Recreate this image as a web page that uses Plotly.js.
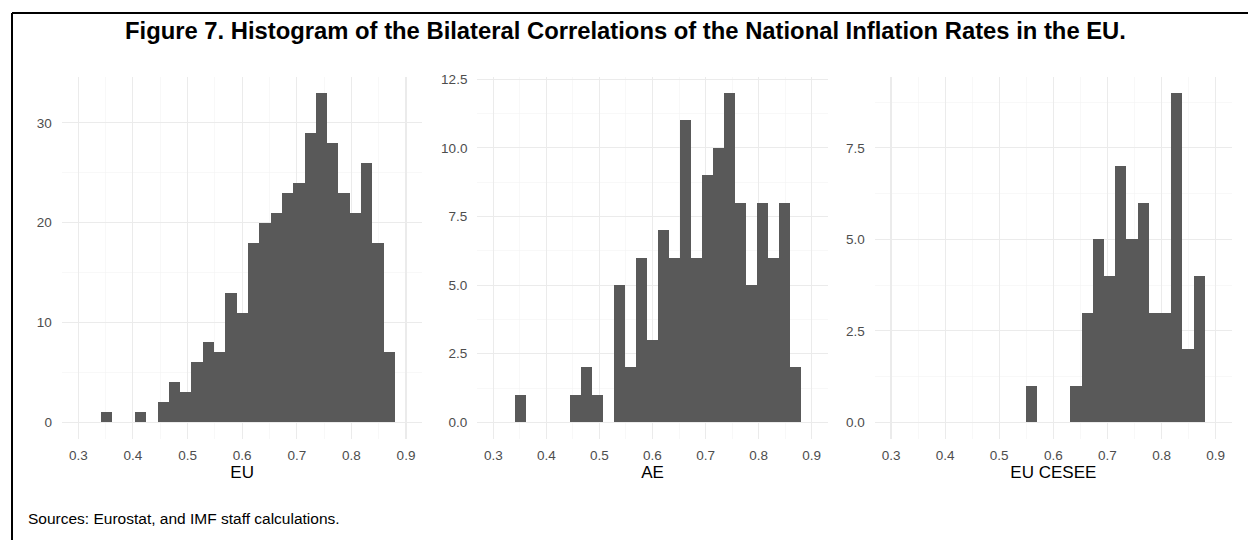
<!DOCTYPE html>
<html>
<head>
<meta charset="utf-8">
<script src="https://cdn.plot.ly/plotly-3.0.1.min.js"></script>
<style>html,body{margin:0;padding:0;background:#fff;}#chart{width:1248px;height:540px;}</style>
</head>
<body>
<div id="chart"></div>
<script>
// Bin centres of the histogram (correlation coefficient)
const binCenters = [0.3519, 0.3726, 0.3933, 0.4140, 0.4347, 0.4554, 0.4761, 0.4968, 0.5175, 0.5382,
                    0.5589, 0.5796, 0.6003, 0.6210, 0.6417, 0.6624, 0.6831, 0.7038, 0.7245, 0.7452,
                    0.7659, 0.7866, 0.8073, 0.8280, 0.8487, 0.8694];
const binWidth = 0.0207;
// Counts per bin
const countsEU    = [1, 0, 0, 1, 0, 2, 4, 3, 6, 8, 7, 13, 11, 18, 20, 21, 23, 24, 29, 33, 28, 23, 21, 26, 18, 7];
const countsAE    = [1, 0, 0, 0, 0, 1, 2, 1, 0, 5, 2, 6, 3, 7, 6, 11, 6, 9, 10, 12, 8, 5, 8, 6, 8, 2];
const countsCESEE = [0, 0, 0, 0, 0, 0, 0, 0, 0, 0, 1, 0, 0, 0, 1, 3, 5, 4, 7, 5, 6, 3, 3, 9, 2, 4];
const panelNames  = ['EU', 'AE', 'EU CESEE'];
const xTickVals   = [0.3, 0.4, 0.5, 0.6, 0.7, 0.8, 0.9];
const xTickText   = ['0.3', '0.4', '0.5', '0.6', '0.7', '0.8', '0.9'];
const titleText   = 'Figure 7. Histogram of the Bilateral Correlations of the National Inflation Rates in the EU.';
const sourceText  = 'Sources: Eurostat, and IMF staff calculations.';

const barColor = '#595959';
const gridMajor = '#EBEBEB';
const gridMinor = '#F4F4F4';
const tickFont = {family: 'Liberation Sans, Arial, sans-serif', size: 13.5, color: '#4D4D4D'};
const axTitleFont = {family: 'Liberation Sans, Arial, sans-serif', size: 17, color: '#000000'};

const allCounts = [countsEU, countsAE, countsCESEE];
const traces = allCounts.map((c, i) => ({
  type: 'bar',
  x: binCenters,
  y: c,
  width: binWidth,
  xaxis: i === 0 ? 'x' : 'x' + (i + 1),
  yaxis: i === 0 ? 'y' : 'y' + (i + 1),
  marker: {color: barColor, line: {width: 0}},
  hoverinfo: 'x+y',
  showlegend: false
}));

const yDomain = [0.18741, 0.85833];
const xDomains = [[0.04960, 0.33846], [0.38253, 0.66314], [0.70096, 0.98710]];
const yRanges = [[-1.65, 34.65], [-0.6, 12.6], [-0.45, 9.45]];
const yDticks = [10, 2.5, 2.5];
const yFormats = ['d', '.1f', '.1f'];

function xAxis(i) {
  return {
    domain: xDomains[i], range: [0.27, 0.93], anchor: i === 0 ? 'y' : 'y' + (i + 1),
    tickmode: 'array', tickvals: xTickVals, ticktext: xTickText,
    showgrid: true, gridcolor: gridMajor, gridwidth: 1.1,
    minor: {dtick: 0.05, tick0: 0.25, showgrid: true, gridcolor: gridMinor, gridwidth: 0.6},
    zeroline: false, showline: false, ticks: '', ticklabelstandoff: 7,
    tickfont: tickFont,
    title: {text: panelNames[i], font: axTitleFont, standoff: 2},
    fixedrange: true
  };
}
function yAxis(i) {
  return {
    domain: yDomain, range: yRanges[i], anchor: i === 0 ? 'x' : 'x' + (i + 1),
    dtick: yDticks[i], tick0: 0, tickformat: yFormats[i],
    showgrid: true, gridcolor: gridMajor, gridwidth: 1.1,
    minor: {dtick: yDticks[i] / 2, tick0: 0, showgrid: true, gridcolor: gridMinor, gridwidth: 0.6},
    zeroline: false, showline: false, ticks: '', ticklabelstandoff: 9,
    tickfont: tickFont, fixedrange: true
  };
}

const layout = {
  width: 1248, height: 540,
  margin: {l: 0, r: 0, t: 0, b: 0},
  paper_bgcolor: '#ffffff', plot_bgcolor: '#ffffff',
  bargap: 0,
  xaxis: xAxis(0), xaxis2: xAxis(1), xaxis3: xAxis(2),
  yaxis: yAxis(0), yaxis2: yAxis(1), yaxis3: yAxis(2),
  shapes: [
    {type: 'line', xref: 'paper', yref: 'paper', x0: 12/1248, x1: 1, y0: 1 - 13/540, y1: 1 - 13/540,
     line: {color: '#000000', width: 2}},
    {type: 'line', xref: 'paper', yref: 'paper', x0: 12/1248, x1: 12/1248, y0: 0, y1: 1 - 13/540,
     line: {color: '#000000', width: 2}}
  ],
  annotations: [
    {text: '<b>' + titleText + '</b>', xref: 'paper', yref: 'paper', x: 625/1248, y: 1 - 31/540,
     xanchor: 'center', yanchor: 'middle', showarrow: false,
     font: {family: 'Liberation Sans, Arial, sans-serif', size: 23.8, color: '#000000'}},
    {text: sourceText, xref: 'paper', yref: 'paper', x: 26/1248, y: 1 - 518/540,
     xanchor: 'left', yanchor: 'middle', showarrow: false,
     font: {family: 'Liberation Sans, Arial, sans-serif', size: 15.5, color: '#000000'}}
  ]
};

Plotly.newPlot('chart', traces, layout, {displayModeBar: false, staticPlot: true});
</script>
</body>
</html>
